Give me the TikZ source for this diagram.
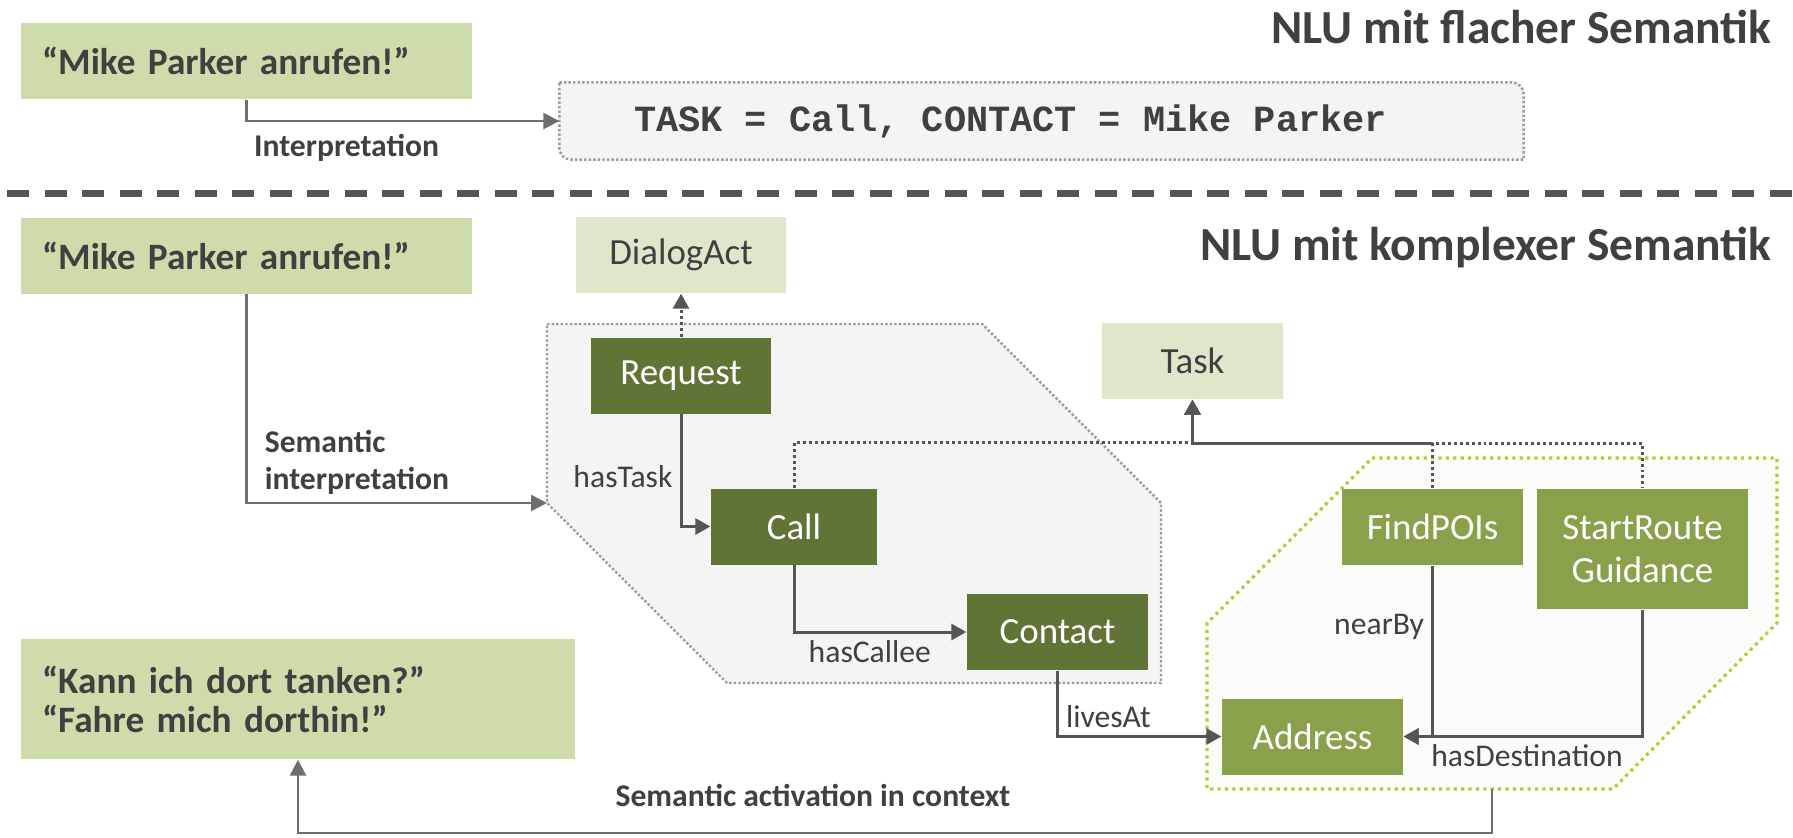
\documentclass[tikz,border=0pt]{standalone}
\usepackage{fontspec}
\setmainfont{Carlito}
\newfontfamily\codefont{Liberation Mono}
\usetikzlibrary{arrows.meta,backgrounds}

\definecolor{UtterGreen}{HTML}{CEDCAC}
\definecolor{ClassGreen}{HTML}{DFE7CA}
\definecolor{InstGreen}{HTML}{607435}
\definecolor{NavGreen}{HTML}{8AA14B}
\definecolor{TextGray}{HTML}{404040}
\definecolor{LinkGray}{HTML}{555555}
\definecolor{FlowGray}{HTML}{6E6E6E}
\definecolor{FrameFill}{HTML}{F4F4F4}
\definecolor{FrameLine}{HTML}{9C9C9C}
\definecolor{NavFill}{HTML}{FBFBF9}
\definecolor{NavLine}{HTML}{AECF2F}
\newcommand{\slotGap}{\kern0.6em}

\tikzstyle{utterBox}=[fill=UtterGreen, text=TextGray, font=\fontsize{10.6}{11.1}\selectfont\bfseries, align=left, inner xsep=0.21cm, inner ysep=0pt]
\tikzstyle{classBox}=[fill=ClassGreen, text=TextGray, font=\fontsize{10.5}{12.2}\selectfont, minimum width=1.81cm, minimum height=0.76cm, inner sep=0pt, align=center]
\tikzstyle{instBox}=[classBox, fill=InstGreen, text=white]
\tikzstyle{navBox}=[classBox, fill=NavGreen, text=white]
\tikzstyle{resultBox}=[text=TextGray, font=\codefont\fontsize{10.5}{12}\selectfont\bfseries, minimum height=0.76cm, text width=8.15cm, inner xsep=0.74cm, inner ysep=0pt, align=left]
\tikzstyle{titleText}=[text=TextGray, font=\fontsize{13.5}{16}\selectfont\bfseries, inner sep=0pt]
\tikzstyle{relLabel}=[text=TextGray, font=\fontsize{9}{10.5}\selectfont, inner sep=2pt]
\tikzstyle{flowLabel}=[text=TextGray, font=\fontsize{9}{10.5}\selectfont\bfseries, inner sep=2pt, align=left]
\tikzstyle{relArrow}=[-{Triangle[length=0.15cm,width=0.16cm]}, draw=LinkGray, line width=0.85pt]
\tikzstyle{flowArrow}=[-{Triangle[length=0.16cm,width=0.16cm]}, draw=FlowGray, line width=0.75pt]
\tikzstyle{taskLink}=[relArrow, dash pattern=on 0.85pt off 0.85pt]
\tikzstyle{callFrame}=[fill=FrameFill, draw=FrameLine, line width=0.7pt, dash pattern=on 0.7pt off 0.6pt]
\tikzstyle{navFrame}=[fill=NavFill, draw=NavLine, line width=0.9pt, dash pattern=on 0.9pt off 1.2pt]
\tikzstyle{sepLine}=[draw=LinkGray, line width=0.07cm, dash pattern=on 0.22cm off 0.155cm, dash phase=0.305cm]

\begin{document}
\begin{tikzpicture}

        \useasboundingbox (0,0) rectangle (17.93,-8.37);

        % Flat semantics
        \node[utterBox, text width=4.09cm, minimum height=0.76cm] (utterFlat) at (2.465,-0.61) {“Mike Parker anrufen!”};
        \node[resultBox] (flatResult) at (10.415,-1.21) {TASK\slotGap=\slotGap Call,\slotGap CONTACT\slotGap=\slotGap Mike\slotGap Parker};
        \node[titleText, anchor=base east] (titleFlat) at (17.72,-0.43) {NLU mit flacher Semantik};

        \begin{scope}[on background layer]
        \draw[callFrame] (flatResult.north west) -- ([xshift=-0.12cm]flatResult.north east) arc[start angle=90, end angle=0, radius=0.12cm]
            -- (flatResult.south east) -- ([xshift=0.12cm]flatResult.south west) arc[start angle=270, end angle=180, radius=0.12cm] -- cycle;
        \end{scope}

        \draw[flowArrow] (utterFlat.south) |- node[flowLabel, pos=0.66, below, yshift=-0.05cm] {Interpretation} (flatResult.west);

        \draw[sepLine] (0,-1.93) -- (17.93,-1.93);

        % Complex semantics
        \draw[callFrame] (5.47,-3.24) -- (9.82,-3.24) -- (11.61,-5.03) -- (11.61,-6.83) -- (7.27,-6.83) -- (5.47,-5.03) coordinate (callIn) -- cycle;
        \draw[navFrame] (13.72,-4.58) -- (17.77,-4.58) -- (17.77,-6.23) -- (16.13,-7.89) -- (14.92,-7.89) coordinate (navOut) -- (12.07,-7.89) -- (12.07,-6.23) -- cycle;

        \node[utterBox, text width=4.09cm, minimum height=0.76cm] (utterCall) at (2.465,-2.555) {“Mike Parker anrufen!”};
        \node[utterBox, text width=5.12cm, minimum height=1.20cm] (utterContext) at (2.98,-6.99) {“Kann ich dort tanken?”\\“Fahre mich dorthin!”};
        \node[titleText, anchor=base east] (titleComplex) at (17.72,-2.60) {NLU mit komplexer Semantik};

        \node[classBox, minimum width=2.10cm] (dialogAct) at (6.81,-2.55) {DialogAct};
        \node[classBox] (task) at (11.925,-3.61) {Task};
        \node[instBox, minimum width=1.80cm] (request) at (6.81,-3.755) {Request};
        \node[instBox, minimum width=1.66cm] (call) at (7.94,-5.265) {Call};
        \node[instBox] (contact) at (10.575,-6.32) {Contact};
        \node[navBox] (findPOIs) at (14.325,-5.27) {FindPOIs};
        \node[navBox, minimum width=2.11cm, minimum height=1.20cm] (startRoute) at (16.425,-5.49) {StartRoute\\Guidance};
        \node[navBox] (address) at (13.125,-7.365) {Address};

        \draw[taskLink] (request) -- (dialogAct);
        \draw[taskLink] (call.north) -- ++(0,0.45) -| (task.south);
        \draw[taskLink] (findPOIs.north) -- ++(0,0.45) -| (task.south);
        \draw[taskLink, dash phase=0.6pt] (startRoute.north) -- ++(0,0.45) -| (task.south);

        \draw[relArrow] (request.south) |- node[relLabel, pos=0.28, left] {hasTask} (call.west);
        \draw[relArrow] (call.south) |- node[relLabel, pos=0.72, below] {hasCallee} (contact.west);
        \draw[relArrow] (contact.south) |- node[relLabel, pos=0.5, above right] {livesAt} (address.west);
        \draw[relArrow] (findPOIs.south) |- node[relLabel, pos=0.18, left] {nearBy} (address.east);
        \draw[relArrow] (startRoute.south) |- node[relLabel, pos=0.96, below right] {hasDestination} (address.east);

        \draw[flowArrow] (utterCall.south) |- node[flowLabel, pos=0.5, above right, xshift=0.1cm] {Semantic\\interpretation} (callIn);
        \draw[flowArrow] (navOut) -- ++(0,-0.44) -| (utterContext.south);
        \node[flowLabel] (activationText) at (8.13,-7.95) {Semantic activation in context};

\end{tikzpicture}
\end{document}
